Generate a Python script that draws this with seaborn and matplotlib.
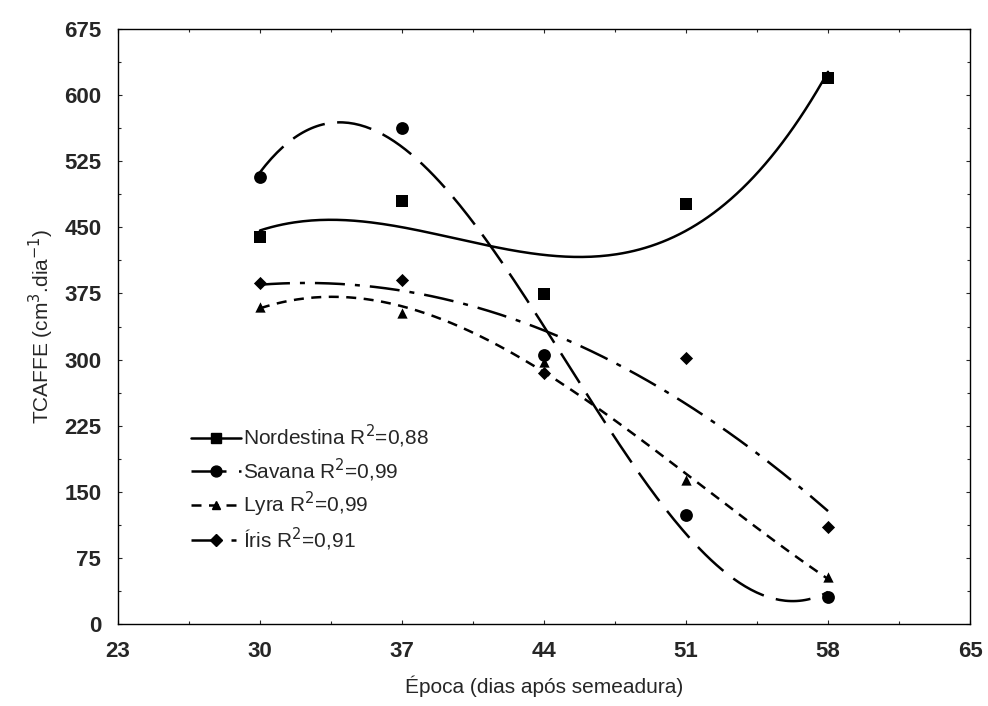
import numpy as np
import pandas as pd
import seaborn as sns
import matplotlib.pyplot as plt
from matplotlib.lines import Line2D
from matplotlib.ticker import AutoMinorLocator

epocas = [30, 37, 44, 51, 58]
nordestina = [439, 480, 374, 476, 619]
savana = [507, 563, 305, 124, 31]
lyra = [360, 353, 297, 163, 53]
iris = [387, 390, 285, 302, 110]

cultivares = ['Nordestina', 'Savana', 'Lyra', 'Íris']
r2_labels = ['0,88', '0,99', '0,99', '0,91']
graus = [3, 3, 3, 2]
marcadores = ['s', 'o', '^', 'D']
tamanhos = [80, 85, 55, 45]
estilos = ['-', (0, (14, 5)), (0, (4, 3)), (0, (12, 4, 2, 4))]

sns.set_style('ticks')
plt.rcParams['font.family'] = ['Liberation Sans', 'DejaVu Sans']

df = pd.DataFrame({'epoca': epocas * 4,
                   'valor': nordestina + savana + lyra + iris,
                   'cultivar': np.repeat(cultivares, len(epocas))})

fig = plt.figure(figsize=(9.88, 7.06), dpi=100)
ax = fig.add_axes([0.1194, 0.1161, 0.8624, 0.8428])

handles = []
xs = np.linspace(30, 58, 200)
for cult, grau, mk, sz, ls, r2 in zip(cultivares, graus, marcadores, tamanhos, estilos, r2_labels):
    sub = df[df.cultivar == cult]
    coef = np.polyfit(sub.epoca, sub.valor, grau)
    fit = pd.DataFrame({'epoca': xs, 'valor': np.polyval(coef, xs)})
    sns.lineplot(data=fit, x='epoca', y='valor', ax=ax, color='black', lw=1.8, linestyle=ls)
    sns.scatterplot(data=sub, x='epoca', y='valor', ax=ax, color='black', marker=mk, s=sz,
                    edgecolor='black', linewidth=0, zorder=3)
    handles.append(Line2D([], [], color='black', lw=1.8, linestyle=ls, marker=mk,
                          markersize=np.sqrt(sz) * 0.85,
                          label=f'{cult} R$^2$=' + r2))

ax.set_xlim(23, 65)
ax.set_ylim(0, 675)
ax.set_xticks([23, 30, 37, 44, 51, 58, 65])
ax.set_yticks(np.arange(0, 676, 75))
ax.xaxis.set_minor_locator(AutoMinorLocator(2))
ax.yaxis.set_minor_locator(AutoMinorLocator(2))
ax.tick_params(which='both', direction='in', top=True, right=True, width=0.8)
ax.tick_params(which='major', length=3, labelsize=16)
ax.tick_params(which='minor', length=2)
ax.tick_params(axis='x', which='major', pad=12)
ax.tick_params(axis='y', which='major', pad=12)
for lbl in ax.get_xticklabels() + ax.get_yticklabels():
    lbl.set_fontweight('bold')
for s in ax.spines.values():
    s.set_linewidth(1.0)
    s.set_color('black')

ax.set_xlabel('Época (dias após semeadura)', fontsize=15, labelpad=10)
ax.set_ylabel('TCAFFE (cm$^3$.dia$^{-1}$)', fontsize=15, labelpad=6)

ax.legend(handles=handles, loc='upper left', bbox_to_anchor=(0.073, 0.355), frameon=False,
          fontsize=15, handlelength=2.4, handletextpad=0.1, labelspacing=0.3, borderpad=0)

fig.savefig('out.png', dpi=100)
